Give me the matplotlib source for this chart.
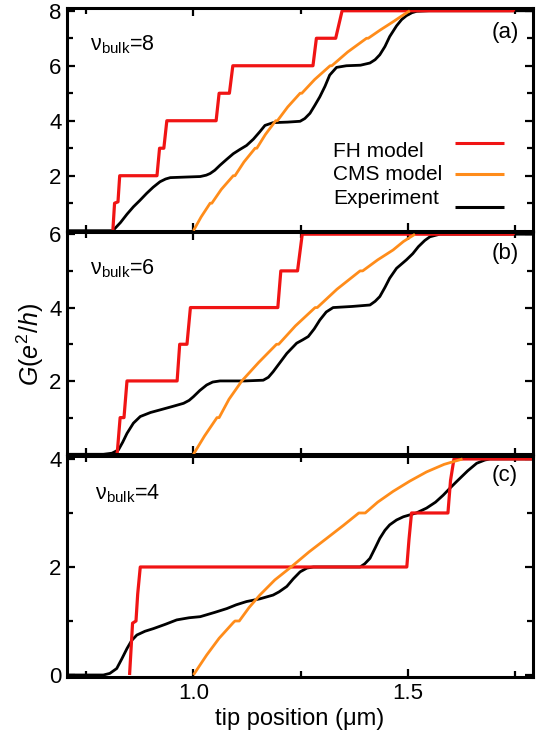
import matplotlib
matplotlib.use("Agg")
import matplotlib.pyplot as plt
from matplotlib.ticker import FixedLocator, NullFormatter

plt.rcParams['font.family'] = ['Liberation Sans', 'DejaVu Sans']
plt.rcParams['mathtext.fontset'] = 'custom'
plt.rcParams['mathtext.rm'] = 'Liberation Sans'
plt.rcParams['mathtext.it'] = 'Liberation Sans:italic'
plt.rcParams['mathtext.bf'] = 'Liberation Sans:bold'

# ---------------- data ----------------
# panel (a) nu_bulk = 8
a_fh_x = [0.812, 0.816, 0.824, 0.828, 0.915, 0.921, 0.931, 0.938, 1.053, 1.060, 1.084, 1.092,
          1.279, 1.287, 1.332, 1.347, 1.746, 1.752]
a_fh_y = [0, 1.0, 1.05, 2.0, 2.0, 3.0, 3.0, 4.0, 4.0, 5.0, 5.0, 6.0,
          6.0, 7.0, 7.0, 8.0, 8.0, 8.15]
a_cms_x = [1.000, 1.018, 1.039, 1.043, 1.065, 1.093, 1.097, 1.118, 1.144, 1.148, 1.168, 1.192, 1.196,
           1.220, 1.249, 1.253, 1.283, 1.319, 1.323, 1.360, 1.404, 1.408, 1.436, 1.466, 1.487, 1.505]
a_cms_y = [0, 0.5, 1.0, 1.0, 1.5, 2.0, 2.0, 2.5, 3.0, 3.0, 3.5, 4.0, 4.0,
           4.5, 5.0, 5.0, 5.5, 6.0, 6.0, 6.5, 7.0, 7.0, 7.3, 7.6, 7.82, 8.0]
a_exp_x = [0.705, 0.812, 0.83, 0.845, 0.86, 0.875, 0.891, 0.906, 0.922, 0.935, 0.946, 0.98, 1.016,
           1.03, 1.039, 1.05, 1.062, 1.078, 1.093, 1.108, 1.124, 1.14, 1.155, 1.167, 1.186, 1.22,
           1.249, 1.26, 1.272, 1.283, 1.295, 1.307, 1.318, 1.334, 1.357, 1.39, 1.412, 1.424, 1.435,
           1.447, 1.458, 1.474, 1.486, 1.497, 1.51, 1.521, 1.55, 1.7925]
a_exp_y = [0, 0, 0.3, 0.6, 0.87, 1.1, 1.36, 1.58, 1.78, 1.88, 1.93, 1.95, 1.97,
           2.02, 2.08, 2.2, 2.38, 2.6, 2.8, 2.95, 3.1, 3.33, 3.6, 3.83, 3.93, 3.95,
           3.98, 4.08, 4.27, 4.55, 4.87, 5.25, 5.66, 5.94, 6.0, 6.02, 6.1, 6.22, 6.4,
           6.7, 7.06, 7.45, 7.68, 7.82, 7.93, 7.98, 8.0, 8.0]

# panel (b) nu_bulk = 6
b_fh_x = [0.822, 0.829, 0.838, 0.845, 0.962, 0.968, 0.985, 0.993, 1.197, 1.204, 1.243, 1.254, 1.746, 1.752]
b_fh_y = [0, 1.0, 1.0, 2.0, 2.0, 3.0, 3.0, 4.0, 4.0, 5.0, 5.0, 6.0, 6.0, 6.12]
b_cms_x = [1.000, 1.026, 1.055, 1.060, 1.083, 1.113, 1.152, 1.194, 1.199, 1.238, 1.284, 1.289,
           1.335, 1.389, 1.395, 1.430, 1.466, 1.490, 1.517]
b_cms_y = [0, 0.5, 1.0, 1.0, 1.5, 2.0, 2.5, 3.0, 3.0, 3.5, 4.0, 4.0,
           4.5, 5.0, 5.0, 5.3, 5.57, 5.8, 6.0]
b_exp_x = [0.705, 0.79, 0.81, 0.825, 0.835, 0.845, 0.86, 0.876, 0.9, 0.922, 0.95, 0.977, 0.99, 1.0,
           1.015, 1.031, 1.045, 1.062, 1.12, 1.163, 1.175, 1.186, 1.202, 1.218, 1.241, 1.255, 1.268,
           1.282, 1.295, 1.31, 1.326, 1.37, 1.412, 1.424, 1.435, 1.447, 1.458, 1.474, 1.497, 1.512,
           1.525, 1.54, 1.552, 1.575, 1.7925]
b_exp_y = [0, 0, 0.03, 0.12, 0.33, 0.57, 0.85, 1.03, 1.14, 1.21, 1.3, 1.39, 1.47, 1.57,
           1.74, 1.89, 1.97, 2.0, 2.0, 2.02, 2.1, 2.25, 2.5, 2.75, 3.03, 3.12, 3.21,
           3.42, 3.66, 3.88, 4.0, 4.03, 4.07, 4.17, 4.3, 4.55, 4.8, 5.07, 5.3, 5.47,
           5.66, 5.83, 5.93, 6.0, 6.0]

# panel (c) nu_bulk = 4
c_fh_x = [0.851, 0.858, 0.866, 0.870, 0.876, 1.498, 1.503, 1.509, 1.594, 1.600, 1.608, 1.7925]
c_fh_y = [0, 0.96, 1.0, 1.5, 2.0, 2.0, 2.5, 3.0, 3.0, 3.6, 4.0, 4.0]
c_cms_x = [1.000, 1.015, 1.031, 1.060, 1.093, 1.097, 1.107, 1.130, 1.155, 1.190, 1.228, 1.270, 1.311,
           1.350, 1.386, 1.401, 1.430, 1.466, 1.505, 1.544, 1.585, 1.628]
c_cms_y = [0, 0.18, 0.37, 0.68, 0.97, 1.0, 1.0, 1.25, 1.48, 1.76, 2.0, 2.28, 2.53,
           2.77, 3.0, 3.0, 3.2, 3.4, 3.59, 3.76, 3.9, 4.0]
c_exp_x = [0.705, 0.79, 0.805, 0.821, 0.833, 0.845, 0.856, 0.868, 0.887, 0.907, 0.935, 0.961, 0.99,
           1.016, 1.05, 1.078, 1.1, 1.124, 1.155, 1.186, 1.2, 1.218, 1.233, 1.249, 1.265, 1.28, 1.389,
           1.40, 1.412, 1.424, 1.435, 1.447, 1.458, 1.474, 1.49, 1.52, 1.544, 1.565, 1.583, 1.60,
           1.614, 1.64, 1.661, 1.68, 1.692, 1.7925]
c_exp_y = [0, 0, 0.03, 0.12, 0.3, 0.49, 0.64, 0.74, 0.81, 0.86, 0.94, 1.02, 1.06,
           1.08, 1.16, 1.23, 1.3, 1.36, 1.41, 1.48, 1.54, 1.64, 1.78, 1.91, 1.98, 2.0, 2.0,
           2.06, 2.16, 2.35, 2.53, 2.68, 2.78, 2.87, 2.93, 3.0, 3.09, 3.2, 3.33, 3.47,
           3.58, 3.78, 3.92, 3.98, 4.0, 4.0]

nu_values = [8, 6, 4]
panel_tags = ['(a)', '(b)', '(c)']
series_labels = ['FH model', 'CMS model', 'Experiment']
x_major = [1.0, 1.5]
x_major_labels = ['1.0', '1.5']
x_minor = [0.75, 1.25, 1.75]

RED = '#f01414'
ORANGE = '#ff8c1a'
BLACK = '#000000'

panels = [
    dict(fh=(a_fh_x, a_fh_y), cms=(a_cms_x, a_cms_y), exp=(a_exp_x, a_exp_y),
         ylim=(0, 8.09), major=[2, 4, 6, 8], minor=[1, 3, 5, 7],
         pos=[0.1227, 0.68484, 0.8535, 0.30383], nu_y=0.835, tag_y=0.89),
    dict(fh=(b_fh_x, b_fh_y), cms=(b_cms_x, b_cms_y), exp=(b_exp_x, b_exp_y),
         ylim=(0, 6.06), major=[2, 4, 6], minor=[1, 3, 5],
         pos=[0.1227, 0.37937, 0.8535, 0.30369], nu_y=0.836, tag_y=0.905),
    dict(fh=(c_fh_x, c_fh_y), cms=(c_cms_x, c_cms_y), exp=(c_exp_x, c_exp_y),
         ylim=(-0.037, 4.055), major=[0, 2, 4], minor=[1, 3],
         pos=[0.1227, 0.07514, 0.8535, 0.30191], nu_y=0.83, tag_y=0.91),
]

fig = plt.figure(figsize=(5.46, 7.32), dpi=100)
axes = []
for i, p in enumerate(panels):
    ax = fig.add_axes(p['pos'])
    axes.append(ax)
    ax.plot(*p['exp'], color=BLACK, lw=2.0, zorder=1, solid_capstyle='butt')
    ax.plot(*p['fh'], color=RED, lw=2.3, zorder=2, solid_capstyle='butt')
    ax.plot(*p['cms'], color=ORANGE, lw=2.0, zorder=3, solid_capstyle='butt')
    ax.set_xlim(0.705, 1.7925)
    ax.set_ylim(*p['ylim'])
    ax.xaxis.set_major_locator(FixedLocator(x_major))
    ax.xaxis.set_minor_locator(FixedLocator(x_minor))
    ax.yaxis.set_major_locator(FixedLocator(p['major']))
    ax.yaxis.set_minor_locator(FixedLocator(p['minor']))
    ax.set_yticklabels([str(v) for v in p['major']])
    if i < 2:
        ax.xaxis.set_major_formatter(NullFormatter())
    else:
        ax.set_xticklabels(x_major_labels)
    ax.tick_params(which='both', direction='in', top=True, right=True, labelsize=16, pad=4)
    ax.tick_params(which='major', length=6, width=1.6)
    ax.tick_params(which='minor', length=4, width=1.6)
    for s in ax.spines.values():
        s.set_linewidth(2.2)
    ax.text(0.05 if i < 2 else 0.06, p['nu_y'],
            r'$\mathregular{\nu_{bulk}}$=' + str(nu_values[i]),
            transform=ax.transAxes, fontsize=15.5, ha='left', va='center')
    ax.text(0.94, p['tag_y'], panel_tags[i], transform=ax.transAxes,
            fontsize=16, ha='center', va='center')

# legend (top panel), text on the left, line samples on the right
ax0 = axes[0]
leg_text_y = [0.354, 0.254, 0.146]
leg_line_y = [0.393, 0.255, 0.108]
leg_colors = [RED, ORANGE, BLACK]
for lab, ty, ly, c in zip(series_labels, leg_text_y, leg_line_y, leg_colors):
    ax0.text(0.571, ty, lab, transform=ax0.transAxes, fontsize=15, ha='left', va='center')
    ax0.plot([0.833, 0.938], [ly, ly], transform=ax0.transAxes, color=c, lw=2.2,
             solid_capstyle='butt', clip_on=False)

axes[2].set_xlabel('tip position (μm)', fontsize=17, labelpad=3)
fig.text(30 / 546, 1 - 345 / 732, r'$G(e^2/h)$', rotation=90, fontsize=18,
         ha='center', va='center')

fig.savefig('out.png', dpi=100)
